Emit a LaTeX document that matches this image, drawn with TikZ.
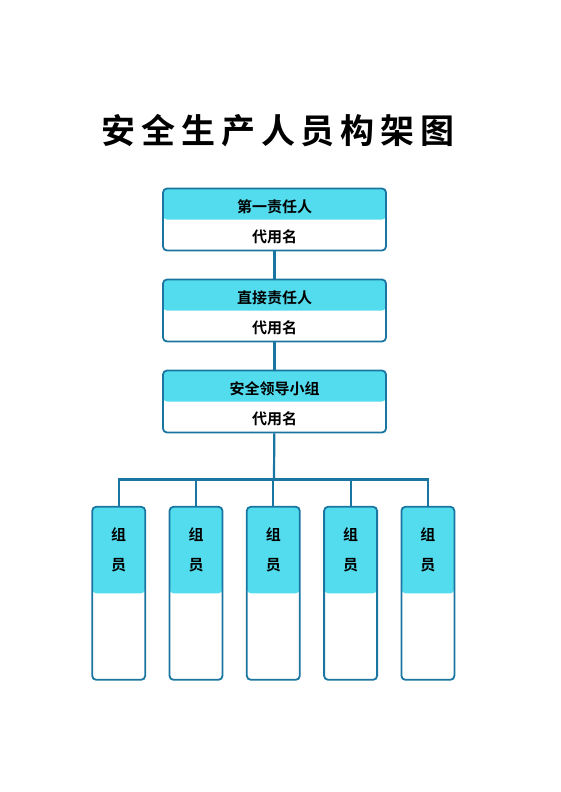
\documentclass[tikz,border=0pt]{standalone}
\usepackage{fontspec}
\setmainfont{Noto Sans CJK SC}[BoldFont={Noto Sans CJK SC Bold}]
\newfontfamily\titlefont{Noto Sans CJK SC Bold}[LetterSpace=17]
\usepackage{xcolor}
\usetikzlibrary{positioning}
\definecolor{headcyan}{RGB}{83,220,238}
\definecolor{edgeblue}{RGB}{26,118,160}

\begin{document}
\begin{tikzpicture}[
    x=1pt, y=-1pt,
    tophalf/.style={path picture={\fill[headcyan] (path picture bounding box.north west) rectangle (path picture bounding box.east);}},
    bigbox/.style={draw=edgeblue, line width=1.8pt, rounded corners=4pt, minimum width=223pt, minimum height=62pt, fill=white, tophalf},
    memberbox/.style={draw=edgeblue, line width=1.8pt, rounded corners=4pt, minimum width=53pt, minimum height=173pt, fill=white, tophalf},
    txt/.style={font=\bfseries\fontsize{15}{15}\selectfont, inner sep=0pt},
    link/.style={draw=edgeblue, line width=2.2pt},
]
\useasboundingbox (0,0) rectangle (560,792);

% Title
\node[font=\titlefont\fontsize{34}{34}\selectfont, inner sep=0pt] (title) at (278,131) {安全生产人员构架图};

% Leadership boxes
\node[bigbox] (lead) at (274.5,219.5) {};
\node[bigbox] (direct) at (274.5,310.5) {};
\node[bigbox] (group) at (274.5,401.5) {};

\node[txt] at ([yshift=13pt]lead.center) {第一责任人};
\node[txt] at ([yshift=-17.5pt]lead.center) {代用名};
\node[txt] at ([yshift=13pt]direct.center) {直接责任人};
\node[txt] at ([yshift=-17.5pt]direct.center) {代用名};
\node[txt] at ([yshift=13pt]group.center) {安全领导小组};
\node[txt] at ([yshift=-17.5pt]group.center) {代用名};

% Members
\foreach \i in {0,...,4} {
  \node[memberbox] (m\i) at (118.7+77.3*\i,593.3) {};
  \node[txt] at ([yshift=59pt]m\i.center) {组};
  \node[txt] at ([yshift=28pt]m\i.center) {员};
}

% Connectors
\coordinate (bus) at (274,479.5);
\draw[link] (lead) -- (direct);
\draw[link] (direct) -- (group);
\draw[link] (group) -- (bus);
\draw[link] (m0.north) |- (bus) -| (m4.north);
\foreach \i in {1,2,3} \draw[link] (m\i.north) -- (m\i.north |- bus);

\end{tikzpicture}
\end{document}
